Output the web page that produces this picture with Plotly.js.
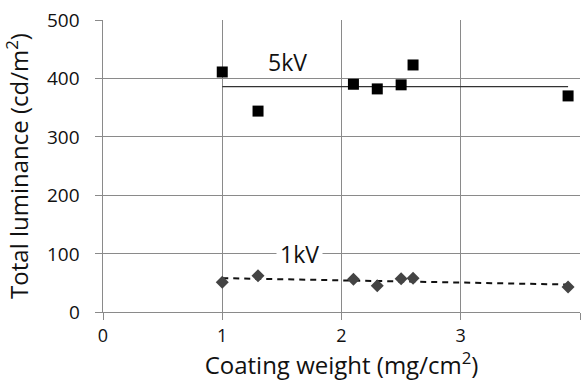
<!DOCTYPE html>
<html>
<head>
<meta charset="utf-8">
<script src="https://cdn.plot.ly/plotly-3.0.1.min.js"></script>
<style>html,body{margin:0;padding:0;background:#fff;}#chart{width:584px;height:381px;}</style>
</head>
<body>
<div id="chart"></div>
<script>
// Data
var weights = [1.0, 1.3, 2.1, 2.3, 2.5, 2.6, 3.9];
var lum5kV = [411, 344, 390, 382, 389, 423, 370];
var lum1kV = [51, 62, 56, 45, 57, 58, 43];
var trendX = [1.0, 3.9];
var trend5kV = [386, 386];
var trend1kV = [58, 47];
var xTicks = [0, 1, 2, 3, 4];
var yTicks = [0, 100, 200, 300, 400, 500];

var font = "Open Sans, Lato, sans-serif";

var traces = [
  {x: trendX, y: trend5kV, mode: 'lines', line: {color: '#333', width: 1.2}, hoverinfo: 'skip'},
  {x: trendX, y: trend1kV, mode: 'lines', line: {color: '#111', width: 2, dash: '6px,5px'}, hoverinfo: 'skip'},
  {x: weights, y: lum5kV, mode: 'markers', marker: {symbol: 'square', size: 11, color: '#000'}},
  {x: weights, y: lum1kV, mode: 'markers', marker: {symbol: 'diamond', size: 10, color: '#444'}}
];

// y tick labels placed on the y axis scale, set further out from the axis as in the reference
var yTickLabels = yTicks.map(function (v) {
  return {xref: 'paper', yref: 'y', x: -0.044, y: v, xanchor: 'right', yanchor: 'middle',
          text: String(v), showarrow: false, font: {size: 19, family: font, color: '#111'}};
});

var layout = {
  width: 584, height: 381,
  margin: {l: 103, r: 4, t: 20, b: 69},
  showlegend: false,
  paper_bgcolor: '#fff', plot_bgcolor: '#fff',
  font: {family: font, color: '#111'},
  xaxis: {
    range: [0, 4], tickvals: xTicks, ticktext: xTicks.map(String),
    showgrid: true, gridcolor: '#8a8a8a', gridwidth: 1,
    showline: true, linecolor: '#8a8a8a', linewidth: 1, mirror: false,
    ticks: 'outside', ticklen: 7, tickcolor: '#8a8a8a',
    zeroline: false,
    tickfont: {size: 18, family: font, color: '#111'},
    title: {text: 'Coating weight (mg/cm<sup>2</sup>)', font: {size: 24, family: font, color: '#111'}, standoff: 4}
  },
  yaxis: {
    range: [0, 500], tickvals: yTicks, showticklabels: false,
    showgrid: true, gridcolor: '#8a8a8a', gridwidth: 1,
    showline: true, linecolor: '#8a8a8a', linewidth: 1,
    ticks: 'outside', ticklen: 7, tickcolor: '#8a8a8a',
    zeroline: false,
    title: {text: 'Total luminance (cd/m<sup>2</sup>)', font: {size: 24, family: font, color: '#111'}, standoff: 61}
  },
  annotations: yTickLabels.concat([
    {x: 1.55, y: 428, text: '5kV', showarrow: false, font: {size: 23, family: font, color: '#111'}},
    {x: 1.65, y: 99, text: '1kV', showarrow: false, bgcolor: '#fff', font: {size: 23, family: font, color: '#111'}, borderpad: 3}
  ])
};

Plotly.newPlot('chart', traces, layout, {displayModeBar: false, staticPlot: true});
</script>
</body>
</html>
